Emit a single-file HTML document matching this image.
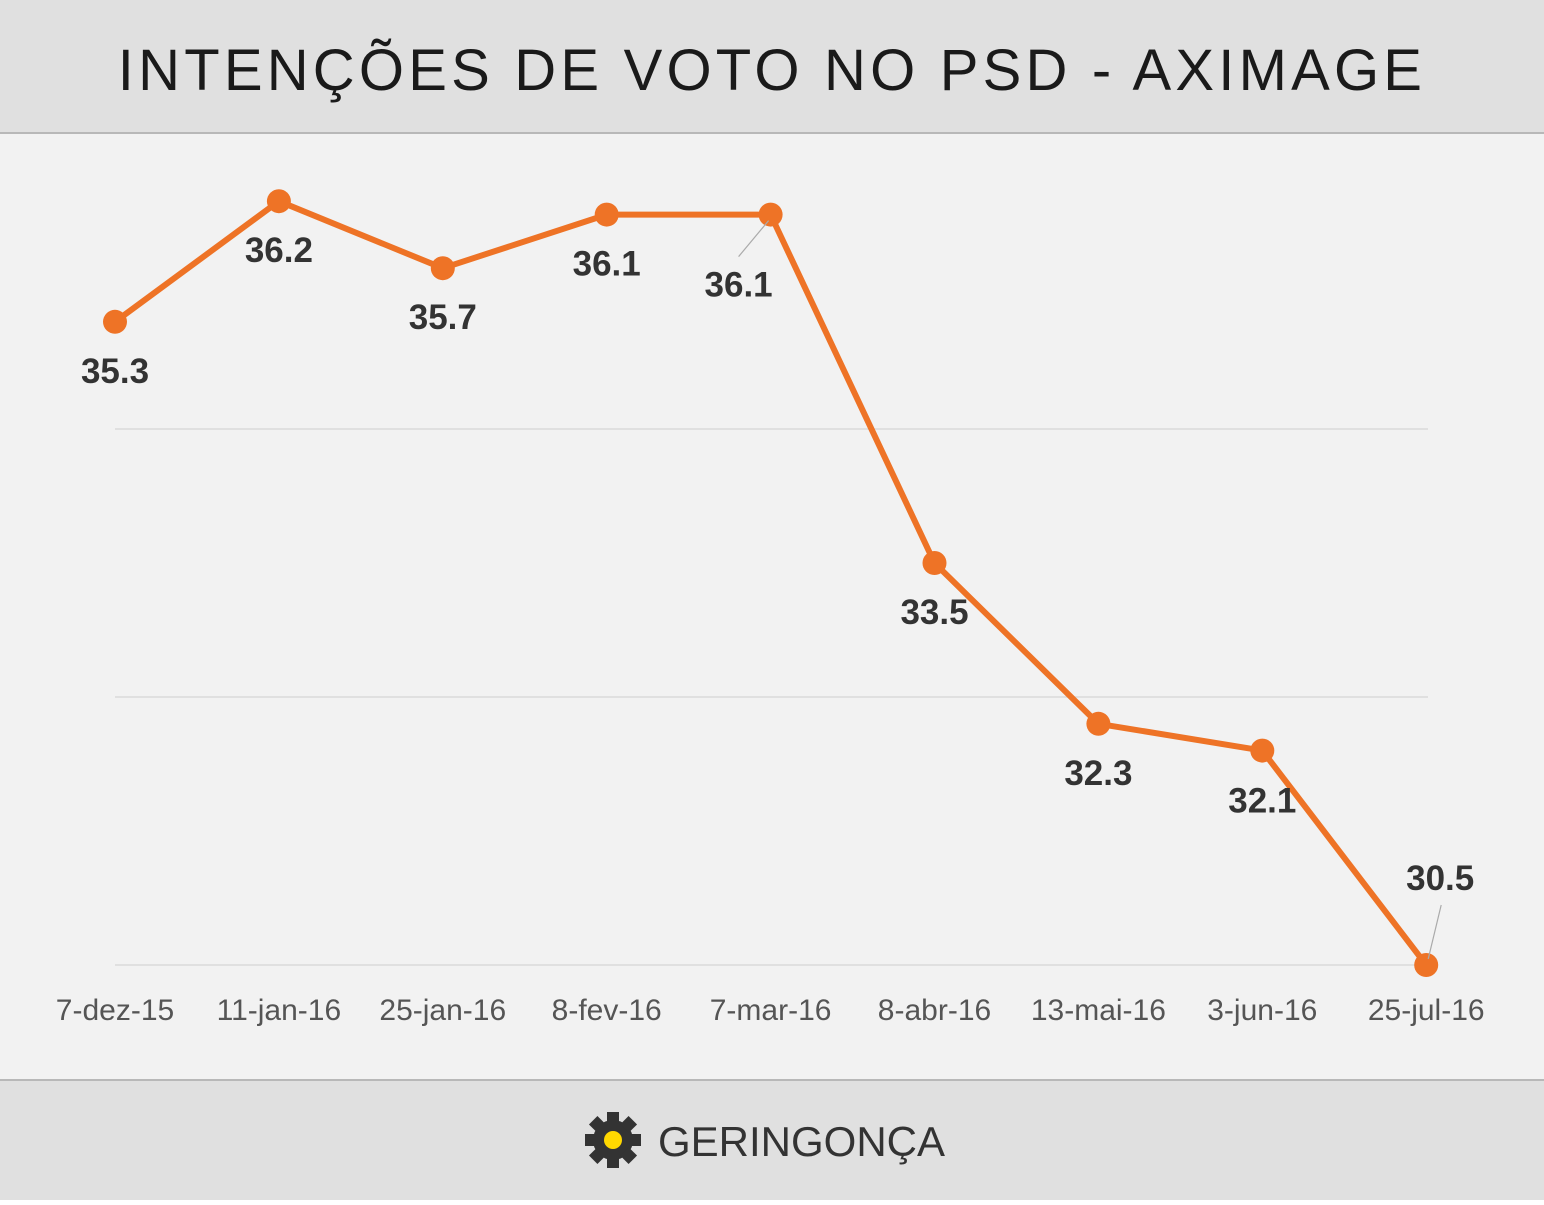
<!DOCTYPE html>
<html><head><meta charset="utf-8"><style>
body{margin:0;width:1544px;height:1200px;overflow:hidden;font-family:"Liberation Sans",sans-serif}
</style></head><body>
<svg width="1544" height="1200" xmlns="http://www.w3.org/2000/svg">
<rect x="0" y="0" width="1544" height="132" fill="#e0e0e0"/>
<rect x="0" y="132" width="1544" height="2" fill="#b8b8b8"/>
<rect x="0" y="134" width="1544" height="946" fill="#f2f2f2"/>
<rect x="0" y="1079" width="1544" height="2" fill="#b8b8b8"/>
<rect x="0" y="1081" width="1544" height="119" fill="#e0e0e0"/>
<text x="772" y="90" text-anchor="middle" font-size="58" letter-spacing="4.2" fill="#1a1a1a">INTENÇÕES DE VOTO NO PSD - AXIMAGE</text>
<g id="grid"></g><g id="xl"></g><g id="line"></g><g id="pts"></g><g id="lbl"></g>
<g>
<g transform="translate(613,1140)" fill="#333">
<circle r="20"/>
<g id="teeth"></g>
<circle r="9" fill="#ffd800"/>
</g>
<text x="658" y="1156" font-size="42" fill="#333">GERINGONÇA</text>
</g>
</svg>
<script>
const categories=["7-dez-15","11-jan-16","25-jan-16","8-fev-16","7-mar-16","8-abr-16","13-mai-16","3-jun-16","25-jul-16"];
const values=[35.3,36.2,35.7,36.1,36.1,33.5,32.3,32.1,30.5];
const gridValues=[30.5,32.5,34.5];
const NS="http://www.w3.org/2000/svg";
const xS=i=>115+i*163.9;
const yS=v=>965-(v-30.5)*134;
function mk(t,a,p){const e=document.createElementNS(NS,t);for(const k in a)e.setAttribute(k,a[k]);p.appendChild(e);return e;}
const grid=document.getElementById('grid');
gridValues.forEach(g=>{const l=mk('line',{x1:115,x2:1428,y1:yS(g),y2:yS(g),stroke:'#d9d9d9','stroke-width':1.5},grid);

});
const xl=document.getElementById('xl');
categories.forEach((c,i)=>{const t=mk('text',{x:xS(i),y:1020,'text-anchor':'middle','font-size':30,fill:'#555'},xl);t.textContent=c;

});
const pl=mk('polyline',{points:values.map((v,i)=>xS(i)+','+yS(v)).join(' '),fill:'none',stroke:'#ee7326','stroke-width':6,'stroke-linejoin':'round'},document.getElementById('line'));


const pts=document.getElementById('pts'),lbl=document.getElementById('lbl');
const offs=[[0,49],[0,49],[0,49],[0,49],[-32,70],[0,49],[0,49],[0,50],[14,-87]];
values.forEach((v,i)=>{const c=mk('circle',{cx:xS(i),cy:yS(v),r:12,fill:'#ee7326'},pts);


const lx=xS(i)+offs[i][0],ly=yS(v)+offs[i][1];
if(i==4)mk('line',{x1:xS(i)-2,y1:yS(v)+6,x2:lx,y2:ly-28,stroke:'#aaa','stroke-width':1.2},lbl);
if(i==8)mk('line',{x1:xS(i)+2,y1:yS(v)-6,x2:lx+1,y2:ly+27,stroke:'#aaa','stroke-width':1.2},lbl);
const t=mk('text',{x:lx,y:ly+12,'text-anchor':'middle','font-size':35,'font-weight':'bold',fill:'#333'},lbl);t.textContent=v.toFixed(1);

});
const teeth=document.getElementById('teeth');
for(let k=0;k<8;k++){const r=mk('rect',{x:-6,y:-28,width:12,height:12,transform:'rotate('+(k*45)+')'},teeth);}
</script>
</body></html>
